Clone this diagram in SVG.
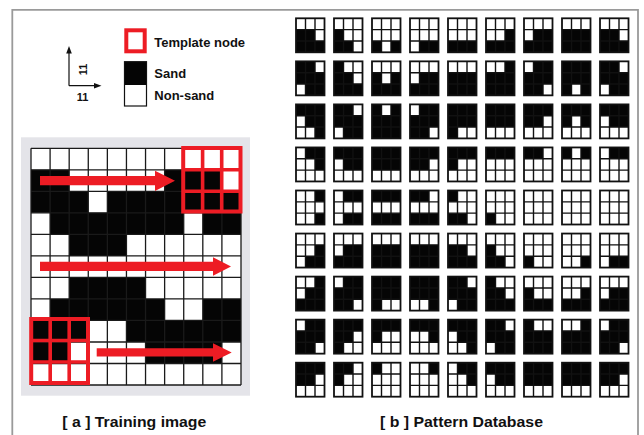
<svg xmlns="http://www.w3.org/2000/svg" xmlns:xlink="http://www.w3.org/1999/xlink" width="644" height="435" viewBox="0 0 644 435">
<style>
.k{fill:#050505}
.gl{fill:none;stroke:#111;stroke-width:1.4}
.red{fill:none;stroke:#ed1c24;stroke-width:4}
.ar{fill:#ed1c24}
.ax{fill:none;stroke:#111;stroke-width:1.2}
text{font-family:"Liberation Sans",Arial,sans-serif;font-weight:bold;fill:#111}
</style>
<defs>
<g id="pg"><rect width="28.5" height="34" class="gl" style="stroke-width:1.8"/><path class="gl" d="M9.5 0V34M19 0V34M0 11.33H28.5M0 22.67H28.5"/></g>
</defs>
<rect width="644" height="435" fill="#fff"/>
<path d="M12.3 440V9.8H638V440" fill="none" stroke="#9a9a9a" stroke-width="1.8"/>

<g id="legend">
<path class="ax" d="M69 85.7V51M69 85.7H96"/>
<polygon points="69,46 66.2,53.5 71.8,53.5" fill="#111"/>
<polygon points="101.5,85.7 94,82.9 94,88.5" fill="#111"/>
<text x="82.5" y="100.5" font-size="11" text-anchor="middle">11</text>
<text transform="translate(86.5,69.5) rotate(-90)" font-size="11" text-anchor="middle">11</text>
<rect class="red" x="126.3" y="30.3" width="18.4" height="21"/>
<rect x="124.5" y="61.7" width="22" height="23.3" fill="#050505"/>
<rect x="124.5" y="61.7" width="22" height="44.3" fill="none" stroke="#111" stroke-width="1.2"/>
<text x="154.3" y="46.7" font-size="13">Template node</text>
<text x="154.3" y="78.3" font-size="13">Sand</text>
<text x="154.3" y="100" font-size="13">Non-sand</text>
</g>

<g id="training-image">
<rect x="21" y="137.3" width="229" height="258.4" fill="#e4e4e9"/>
<rect x="31" y="148.3" width="210" height="236.7" fill="#fff"/>
<path class="k" transform="translate(31,148.3) scale(19.09,21.52)" d="M0 1h2v1H0zM7 1h3v1H7zM0 2h3v1H0zM4 2h7v1H4zM1 3h7v1H1zM9 3h2v1H9zM2 4h3v1H2zM2 6h4v1H2zM1 7h6v1H1zM9 7h2v1H9zM0 8h3v1H0zM5 8h6v1H5zM0 9h2v1H0zM6 9h4v1H6z"/>
<path fill="none" stroke="#1a1a1a" stroke-width="1.3" d="M31 148.3V385M50.09 148.3V385M69.18 148.3V385M88.27 148.3V385M107.36 148.3V385M126.45 148.3V385M145.54 148.3V385M164.63 148.3V385M183.72 148.3V385M202.81 148.3V385M221.9 148.3V385M241 148.3V385M31 148.3H241M31 169.82H241M31 191.34H241M31 212.86H241M31 234.38H241M31 255.9H241M31 277.42H241M31 298.94H241M31 320.46H241M31 341.98H241M31 363.5H241M31 385H241"/>
</g>
<g id="template-top">
<rect class="red" x="183.2" y="148" width="57.3" height="63.5"/>
<path class="red" style="stroke-width:3.6" d="M202.6 148V211.5M221.7 148V211.5M183.2 169.7H240.5M183.2 191.3H240.5"/>
</g>
<g id="template-bottom">
<rect class="red" x="31.2" y="319" width="56.8" height="64"/>
<path class="red" style="stroke-width:3.6" d="M50.2 319V383M69.2 319V383M31.2 340.5H88M31.2 362H88"/>
</g>

<g id="connectors">
<polygon class="ar" points="40,176 155,176 155,170.7 175,180.7 155,191 155,185.2 40,185.2"/>
<polygon class="ar" points="40,261.7 213,261.7 213,257.3 231,266.5 213,275.7 213,270.9 40,270.9"/>
<polygon class="ar" points="96.7,348.3 213,348.3 213,343.3 231.7,352.5 213,361.7 213,356.5 96.7,356.5"/>
</g>

<g id="pattern-database">
<g id="p00" transform="translate(296,18.3)"><path class="k" transform="scale(9.5,11.333)" d="M0 1h2v1H0zM0 2h3v1H0z"/><use href="#pg"/></g>
<g id="p01" transform="translate(334,18.3)"><path class="k" transform="scale(9.5,11.333)" d="M0 1h1v1H0zM0 2h2v1H0z"/><use href="#pg"/></g>
<g id="p02" transform="translate(372,18.3)"><path class="k" transform="scale(9.5,11.333)" d="M0 2h1v1H0zM2 2h1v1H2z"/><use href="#pg"/></g>
<g id="p03" transform="translate(410,18.3)"><path class="k" transform="scale(9.5,11.333)" d="M1 2h2v1H1z"/><use href="#pg"/></g>
<g id="p04" transform="translate(448,18.3)"><path class="k" transform="scale(9.5,11.333)" d="M0 2h3v1H0z"/><use href="#pg"/></g>
<g id="p05" transform="translate(486,18.3)"><path class="k" transform="scale(9.5,11.333)" d="M2 1h1v1H2zM0 2h3v1H0z"/><use href="#pg"/></g>
<g id="p06" transform="translate(524,18.3)"><path class="k" transform="scale(9.5,11.333)" d="M1 1h2v1H1zM0 2h3v1H0z"/><use href="#pg"/></g>
<g id="p07" transform="translate(562,18.3)"><path class="k" transform="scale(9.5,11.333)" d="M0 1h3v2H0z"/><use href="#pg"/></g>
<g id="p08" transform="translate(600,18.3)"><path class="k" transform="scale(9.5,11.333)" d="M0 1h2v1H0zM0 2h3v1H0z"/><use href="#pg"/></g>

<g id="p10" transform="translate(296,61.35)"><path class="k" transform="scale(9.5,11.333)" d="M0 0h2v1H0zM0 1h3v1H0zM1 2h2v1H1z"/><use href="#pg"/></g>
<g id="p11" transform="translate(334,61.35)"><path class="k" transform="scale(9.5,11.333)" d="M0 0h1v1H0zM0 1h2v1H0zM0 2h3v1H0z"/><use href="#pg"/></g>
<g id="p12" transform="translate(372,61.35)"><path class="k" transform="scale(9.5,11.333)" d="M0 1h1v1H0zM2 1h1v1H2zM0 2h3v1H0z"/><use href="#pg"/></g>
<g id="p13" transform="translate(410,61.35)"><path class="k" transform="scale(9.5,11.333)" d="M1 1h2v1H1zM0 2h3v1H0z"/><use href="#pg"/></g>
<g id="p14" transform="translate(448,61.35)"><path class="k" transform="scale(9.5,11.333)" d="M0 1h3v2H0z"/><use href="#pg"/></g>
<g id="p15" transform="translate(486,61.35)"><path class="k" transform="scale(9.5,11.333)" d="M2 0h1v1H2zM0 1h3v2H0z"/><use href="#pg"/></g>
<g id="p16" transform="translate(524,61.35)"><path class="k" transform="scale(9.5,11.333)" d="M1 0h2v1H1zM0 1h3v1H0zM0 2h2v1H0z"/><use href="#pg"/></g>
<g id="p17" transform="translate(562,61.35)"><path class="k" transform="scale(9.5,11.333)" d="M0 0h3v2H0zM0 2h1v1H0zM2 2h1v1H2z"/><use href="#pg"/></g>
<g id="p18" transform="translate(600,61.35)"><path class="k" transform="scale(9.5,11.333)" d="M0 0h2v1H0zM0 1h3v1H0zM1 2h2v1H1z"/><use href="#pg"/></g>

<g id="p20" transform="translate(296,104.4)"><path class="k" transform="scale(9.5,11.333)" d="M0 0h3v1H0zM1 1h2v1H1zM2 2h1v1H2z"/><use href="#pg"/></g>
<g id="p21" transform="translate(334,104.4)"><path class="k" transform="scale(9.5,11.333)" d="M0 0h2v1H0zM0 1h3v1H0zM1 2h2v1H1z"/><use href="#pg"/></g>
<g id="p22" transform="translate(372,104.4)"><path class="k" transform="scale(9.5,11.333)" d="M0 0h1v1H0zM2 0h1v1H2zM0 1h3v2H0z"/><use href="#pg"/></g>
<g id="p23" transform="translate(410,104.4)"><path class="k" transform="scale(9.5,11.333)" d="M1 0h2v1H1zM0 1h3v1H0zM0 2h2v1H0z"/><use href="#pg"/></g>
<g id="p24" transform="translate(448,104.4)"><path class="k" transform="scale(9.5,11.333)" d="M0 0h3v2H0zM0 2h1v1H0z"/><use href="#pg"/></g>
<g id="p25" transform="translate(486,104.4)"><path class="k" transform="scale(9.5,11.333)" d="M0 0h3v2H0z"/><use href="#pg"/></g>
<g id="p26" transform="translate(524,104.4)"><path class="k" transform="scale(9.5,11.333)" d="M0 0h3v1H0zM0 1h2v1H0z"/><use href="#pg"/></g>
<g id="p27" transform="translate(562,104.4)"><path class="k" transform="scale(9.5,11.333)" d="M0 0h3v1H0zM0 1h1v1H0zM2 1h1v1H2z"/><use href="#pg"/></g>
<g id="p28" transform="translate(600,104.4)"><path class="k" transform="scale(9.5,11.333)" d="M0 0h3v1H0zM1 1h2v1H1z"/><use href="#pg"/></g>

<g id="p30" transform="translate(296,147.45)"><path class="k" transform="scale(9.5,11.333)" d="M1 0h2v1H1zM2 1h1v1H2z"/><use href="#pg"/></g>
<g id="p31" transform="translate(334,147.45)"><path class="k" transform="scale(9.5,11.333)" d="M0 0h3v1H0zM1 1h2v1H1z"/><use href="#pg"/></g>
<g id="p32" transform="translate(372,147.45)"><path class="k" transform="scale(9.5,11.333)" d="M0 0h3v2H0z"/><use href="#pg"/></g>
<g id="p33" transform="translate(410,147.45)"><path class="k" transform="scale(9.5,11.333)" d="M0 0h3v1H0zM0 1h2v1H0z"/><use href="#pg"/></g>
<g id="p34" transform="translate(448,147.45)"><path class="k" transform="scale(9.5,11.333)" d="M0 0h3v1H0zM0 1h1v1H0z"/><use href="#pg"/></g>
<g id="p35" transform="translate(486,147.45)"><path class="k" transform="scale(9.5,11.333)" d="M0 0h3v1H0z"/><use href="#pg"/></g>
<g id="p36" transform="translate(524,147.45)"><path class="k" transform="scale(9.5,11.333)" d="M0 0h2v1H0z"/><use href="#pg"/></g>
<g id="p37" transform="translate(562,147.45)"><path class="k" transform="scale(9.5,11.333)" d="M0 0h1v1H0zM2 0h1v1H2z"/><use href="#pg"/></g>
<g id="p38" transform="translate(600,147.45)"><path class="k" transform="scale(9.5,11.333)" d="M1 0h2v1H1z"/><use href="#pg"/></g>

<g id="p40" transform="translate(296,190.5)"><path class="k" transform="scale(9.5,11.333)" d="M2 0h1v1H2zM2 2h1v1H2z"/><use href="#pg"/></g>
<g id="p41" transform="translate(334,190.5)"><path class="k" transform="scale(9.5,11.333)" d="M1 0h2v1H1zM1 2h2v1H1z"/><use href="#pg"/></g>
<g id="p42" transform="translate(372,190.5)"><path class="k" transform="scale(9.5,11.333)" d="M0 0h3v1H0zM0 2h3v1H0z"/><use href="#pg"/></g>
<g id="p43" transform="translate(410,190.5)"><path class="k" transform="scale(9.5,11.333)" d="M0 0h2v1H0zM0 2h3v1H0z"/><use href="#pg"/></g>
<g id="p44" transform="translate(448,190.5)"><path class="k" transform="scale(9.5,11.333)" d="M0 0h1v1H0zM0 2h2v1H0z"/><use href="#pg"/></g>
<g id="p45" transform="translate(486,190.5)"><path class="k" transform="scale(9.5,11.333)" d="M0 2h1v1H0z"/><use href="#pg"/></g>
<g id="p46" transform="translate(524,190.5)"><use href="#pg"/></g>
<g id="p47" transform="translate(562,190.5)"><use href="#pg"/></g>
<g id="p48" transform="translate(600,190.5)"><use href="#pg"/></g>

<g id="p50" transform="translate(296,233.55)"><path class="k" transform="scale(9.5,11.333)" d="M2 1h1v1H2zM1 2h2v1H1z"/><use href="#pg"/></g>
<g id="p51" transform="translate(334,233.55)"><path class="k" transform="scale(9.5,11.333)" d="M1 1h2v1H1zM0 2h3v1H0z"/><use href="#pg"/></g>
<g id="p52" transform="translate(372,233.55)"><path class="k" transform="scale(9.5,11.333)" d="M0 1h3v2H0z"/><use href="#pg"/></g>
<g id="p53" transform="translate(410,233.55)"><path class="k" transform="scale(9.5,11.333)" d="M0 1h3v2H0z"/><use href="#pg"/></g>
<g id="p54" transform="translate(448,233.55)"><path class="k" transform="scale(9.5,11.333)" d="M0 1h2v1H0zM0 2h3v1H0z"/><use href="#pg"/></g>
<g id="p55" transform="translate(486,233.55)"><path class="k" transform="scale(9.5,11.333)" d="M0 1h1v1H0zM0 2h2v1H0z"/><use href="#pg"/></g>
<g id="p56" transform="translate(524,233.55)"><path class="k" transform="scale(9.5,11.333)" d="M0 2h1v1H0z"/><use href="#pg"/></g>
<g id="p57" transform="translate(562,233.55)"><path class="k" transform="scale(9.5,11.333)" d="M2 2h1v1H2z"/><use href="#pg"/></g>
<g id="p58" transform="translate(600,233.55)"><path class="k" transform="scale(9.5,11.333)" d="M1 2h2v1H1z"/><use href="#pg"/></g>

<g id="p60" transform="translate(296,276.6)"><path class="k" transform="scale(9.5,11.333)" d="M2 0h1v1H2zM1 1h2v1H1zM0 2h3v1H0z"/><use href="#pg"/></g>
<g id="p61" transform="translate(334,276.6)"><path class="k" transform="scale(9.5,11.333)" d="M1 0h2v1H1zM0 1h3v1H0zM0 2h2v1H0z"/><use href="#pg"/></g>
<g id="p62" transform="translate(372,276.6)"><path class="k" transform="scale(9.5,11.333)" d="M0 0h3v2H0zM0 2h1v1H0z"/><use href="#pg"/></g>
<g id="p63" transform="translate(410,276.6)"><path class="k" transform="scale(9.5,11.333)" d="M0 0h3v2H0zM2 2h1v1H2z"/><use href="#pg"/></g>
<g id="p64" transform="translate(448,276.6)"><path class="k" transform="scale(9.5,11.333)" d="M0 0h2v1H0zM0 1h3v1H0zM1 2h2v1H1z"/><use href="#pg"/></g>
<g id="p65" transform="translate(486,276.6)"><path class="k" transform="scale(9.5,11.333)" d="M0 0h1v1H0zM0 1h2v1H0zM0 2h3v1H0z"/><use href="#pg"/></g>
<g id="p66" transform="translate(524,276.6)"><path class="k" transform="scale(9.5,11.333)" d="M0 1h1v1H0zM0 2h3v1H0z"/><use href="#pg"/></g>
<g id="p67" transform="translate(562,276.6)"><path class="k" transform="scale(9.5,11.333)" d="M2 1h1v1H2zM0 2h3v1H0z"/><use href="#pg"/></g>
<g id="p68" transform="translate(600,276.6)"><path class="k" transform="scale(9.5,11.333)" d="M1 1h2v1H1zM0 2h3v1H0z"/><use href="#pg"/></g>

<g id="p70" transform="translate(296,319.65)"><path class="k" transform="scale(9.5,11.333)" d="M1 0h2v1H1zM0 1h3v1H0zM0 2h2v1H0z"/><use href="#pg"/></g>
<g id="p71" transform="translate(334,319.65)"><path class="k" transform="scale(9.5,11.333)" d="M0 0h3v1H0zM0 1h2v1H0zM0 2h1v1H0z"/><use href="#pg"/></g>
<g id="p72" transform="translate(372,319.65)"><path class="k" transform="scale(9.5,11.333)" d="M0 0h3v1H0zM0 1h1v1H0z"/><use href="#pg"/></g>
<g id="p73" transform="translate(410,319.65)"><path class="k" transform="scale(9.5,11.333)" d="M0 0h3v1H0zM2 1h1v1H2z"/><use href="#pg"/></g>
<g id="p74" transform="translate(448,319.65)"><path class="k" transform="scale(9.5,11.333)" d="M0 0h3v1H0zM1 1h2v1H1zM2 2h1v1H2z"/><use href="#pg"/></g>
<g id="p75" transform="translate(486,319.65)"><path class="k" transform="scale(9.5,11.333)" d="M0 0h2v1H0zM0 1h3v1H0zM1 2h2v1H1z"/><use href="#pg"/></g>
<g id="p76" transform="translate(524,319.65)"><path class="k" transform="scale(9.5,11.333)" d="M0 0h1v1H0zM0 1h3v2H0z"/><use href="#pg"/></g>
<g id="p77" transform="translate(562,319.65)"><path class="k" transform="scale(9.5,11.333)" d="M2 0h1v1H2zM0 1h3v2H0z"/><use href="#pg"/></g>
<g id="p78" transform="translate(600,319.65)"><path class="k" transform="scale(9.5,11.333)" d="M1 0h2v1H1zM0 1h3v1H0zM0 2h2v1H0z"/><use href="#pg"/></g>

<g id="p80" transform="translate(296,362.7)"><path class="k" transform="scale(9.5,11.333)" d="M0 0h3v1H0zM0 1h2v1H0z"/><use href="#pg"/></g>
<g id="p81" transform="translate(334,362.7)"><path class="k" transform="scale(9.5,11.333)" d="M0 0h2v1H0zM0 1h1v1H0z"/><use href="#pg"/></g>
<g id="p82" transform="translate(372,362.7)"><path class="k" transform="scale(9.5,11.333)" d="M0 0h1v1H0z"/><use href="#pg"/></g>
<g id="p83" transform="translate(410,362.7)"><path class="k" transform="scale(9.5,11.333)" d="M2 0h1v1H2z"/><use href="#pg"/></g>
<g id="p84" transform="translate(448,362.7)"><path class="k" transform="scale(9.5,11.333)" d="M1 0h2v1H1zM2 1h1v1H2z"/><use href="#pg"/></g>
<g id="p85" transform="translate(486,362.7)"><path class="k" transform="scale(9.5,11.333)" d="M0 0h3v1H0zM1 1h2v1H1z"/><use href="#pg"/></g>
<g id="p86" transform="translate(524,362.7)"><path class="k" transform="scale(9.5,11.333)" d="M0 0h3v2H0z"/><use href="#pg"/></g>
<g id="p87" transform="translate(562,362.7)"><path class="k" transform="scale(9.5,11.333)" d="M0 0h3v2H0z"/><use href="#pg"/></g>
<g id="p88" transform="translate(600,362.7)"><path class="k" transform="scale(9.5,11.333)" d="M0 0h3v1H0zM0 1h2v1H0z"/><use href="#pg"/></g>
</g>

<g id="titles">
<text x="62.3" y="426.7" font-size="15.5" textLength="144" lengthAdjust="spacingAndGlyphs">[ a ] Training image</text>
<text x="380" y="426.7" font-size="15.5" textLength="163" lengthAdjust="spacingAndGlyphs">[ b ] Pattern Database</text>
</g>
</svg>
